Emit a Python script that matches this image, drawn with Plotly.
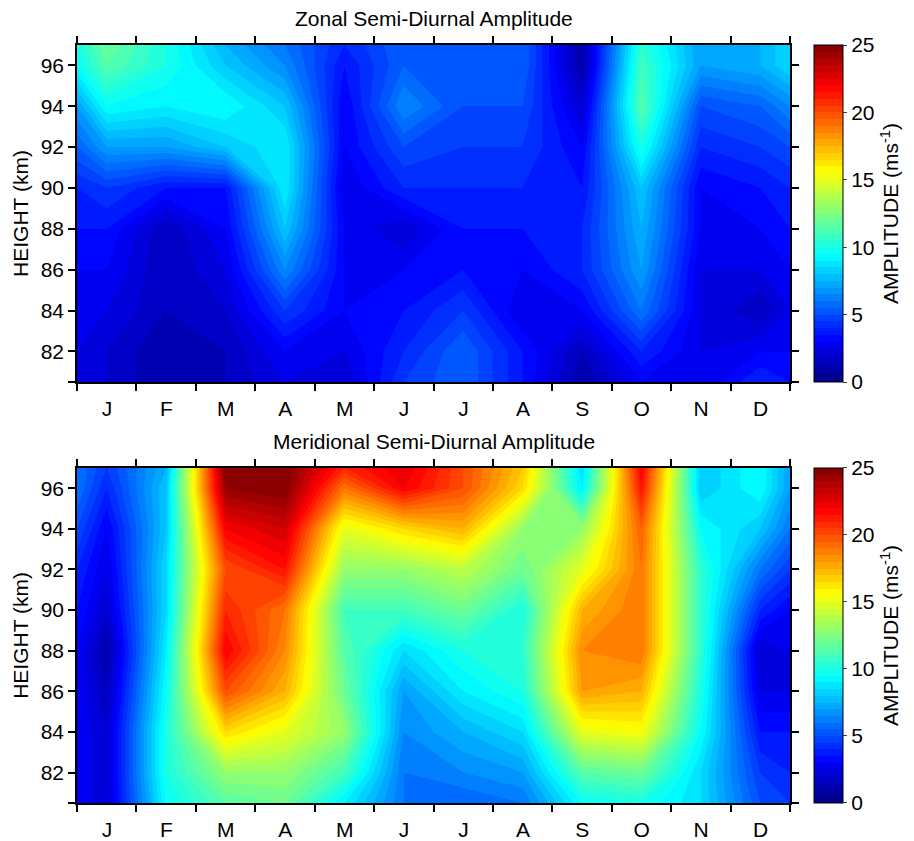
import plotly.graph_objects as go
from plotly.subplots import make_subplots

# month positions (0 = start of Jan, 12 = end of Dec), data at month centres plus edges
month_pos = [0, 0.5, 1.5, 2.5, 3.5, 4.5, 5.5, 6.5, 7.5, 8.5, 9.5, 10.5, 11.5, 12]
heights = [80.5, 82, 84, 86, 88, 90, 92, 94, 96, 97]
month_labels = ["J", "F", "M", "A", "M", "J", "J", "A", "S", "O", "N", "D", ""]
height_ticks = [80.5, 82, 84, 86, 88, 90, 92, 94, 96]
height_labels = ["", "82", "84", "86", "88", "90", "92", "94", "96"]

# zonal semi-diurnal amplitude (m/s), rows = heights (bottom to top)
zonal = [
    [2.5, 2, 1, 1.5, 2.5, 2, 4.5, 5.5, 3.5, 1, 3, 2.5, 4, 3.5],
    [2.5, 2, 1, 1.5, 3, 2.5, 4, 5.5, 3.5, 1.5, 4, 2.5, 3, 3],
    [3, 2.5, 1.5, 2, 4.5, 3, 3.5, 4.5, 2.5, 3, 6, 2.5, 1.5, 2.5],
    [3, 3, 1.5, 2.5, 6.5, 3, 3, 3.5, 3, 4, 7, 2.5, 2.5, 3],
    [3.5, 3.5, 1.5, 3, 8, 3, 2, 3.5, 3.5, 4, 7.5, 3, 3, 3.5],
    [4, 4.5, 3.5, 3.5, 9, 2.5, 4, 4, 4, 3.5, 8, 3, 3.5, 4],
    [5.5, 7, 7, 8, 9, 3, 5, 4.5, 4.5, 3, 10, 4, 4.5, 5],
    [7, 9.5, 9, 9.5, 8, 3, 6.5, 5, 5, 2, 11.5, 5, 5.5, 6.5],
    [9.5, 11.5, 10, 8, 6.5, 3.5, 5.5, 5.5, 5.5, 1, 11, 7, 7.5, 8.5],
    [10, 12, 10, 7.5, 6, 4, 5.5, 5.5, 5.5, 1, 10.5, 7, 7.5, 8.5],
]

# meridional semi-diurnal amplitude (m/s)
meridional = [
    [3, 2, 9.5, 11.5, 12, 9, 6, 5.5, 6, 9.5, 10, 8.5, 5, 4.5],
    [3, 2, 10, 13, 13, 11, 6, 6.5, 7, 11.5, 12, 8.5, 4.5, 4],
    [3, 2, 10, 16.5, 15, 13, 6.5, 7.5, 8.5, 15, 15.5, 9.5, 3.5, 3.5],
    [3, 1.5, 9.5, 20, 17.5, 12, 7, 9, 10, 18, 17.5, 10, 2.5, 2.5],
    [3, 1, 9, 22, 18.5, 11.5, 8.5, 10, 10.5, 18.5, 19, 10.5, 2, 2.5],
    [3.5, 2, 8.5, 21, 19, 11, 11, 12, 10, 17.5, 19, 10.5, 4, 3],
    [4, 2.5, 8.5, 20, 21.5, 13, 13, 14, 12, 15, 19, 10.5, 6, 4.5],
    [5, 3, 8, 22, 23, 15, 16.5, 17.5, 13, 13, 19.5, 9.5, 8, 6],
    [6, 4, 8, 24.5, 25, 19, 22, 20, 16.5, 9, 21.5, 8, 9.5, 7],
    [6, 4.5, 7.5, 25, 25, 21, 22.5, 20, 17, 8.5, 22, 8, 9.5, 7],
]

jet = [
    [0.0, "rgb(0,0,128)"],
    [0.125, "rgb(0,0,255)"],
    [0.375, "rgb(0,255,255)"],
    [0.625, "rgb(255,255,0)"],
    [0.875, "rgb(255,0,0)"],
    [1.0, "rgb(128,0,0)"],
]

font = "Liberation Sans, Arial, sans-serif"

fig = make_subplots(rows=2, cols=1)

top_dom = [0.5554, 1.0]
bot_dom = [0.0, 0.442]

for i, (z, dom) in enumerate([(zonal, top_dom), (meridional, bot_dom)]):
    fig.add_trace(go.Contour(
        x=month_pos, y=heights, z=z,
        colorscale=jet, zmin=0, zmax=25,
        contours=dict(start=0, end=25, size=0.5, coloring="fill"),
        line=dict(width=0, smoothing=0),
        colorbar=dict(
            x=1.0337, xanchor="left", xpad=0, ypad=0,
            y=dom[1], yanchor="top", len=dom[1] - dom[0], lenmode="fraction",
            thickness=29, outlinewidth=1, outlinecolor="black",
            tickvals=[0, 5, 10, 15, 20, 25], ticks="outside", ticklen=4,
            tickfont=dict(size=21, family=font, color="black"),
            title=dict(text="AMPLITUDE (ms<sup>-1</sup>)", side="right",
                       font=dict(size=21, family=font, color="black")),
        ),
    ), row=i + 1, col=1)

fig.update_xaxes(range=[0, 12], tickvals=list(range(13)), ticktext=month_labels,
                 ticklabelshift=30, ticks="outside", ticklen=7, tickwidth=2,
                 tickcolor="black", showline=True, linecolor="black", linewidth=1.5,
                 mirror="allticks", showgrid=False, zeroline=False, automargin=False,
                 tickfont=dict(size=21, family=font, color="black"))
fig.update_yaxes(range=[80.5, 97], tickvals=height_ticks, ticktext=height_labels,
                 ticks="outside", ticklen=7, tickwidth=2, tickcolor="black",
                 showline=True, linecolor="black", linewidth=1.5, mirror="allticks",
                 showgrid=False, zeroline=False, automargin=False,
                 tickfont=dict(size=21, family=font, color="black"),
                 title=dict(text="HEIGHT (km)", font=dict(size=21, family=font, color="black"),
                            standoff=6))
fig.update_layout(yaxis=dict(domain=top_dom), yaxis2=dict(domain=bot_dom))

fig.add_annotation(text="Zonal Semi-Diurnal Amplitude", xref="paper", yref="paper",
                   x=0.5, y=1.0, yanchor="bottom", yshift=13, showarrow=False,
                   font=dict(size=21, family=font, color="black"))
fig.add_annotation(text="Meridional Semi-Diurnal Amplitude", xref="paper", yref="paper",
                   x=0.5, y=bot_dom[1], yanchor="bottom", yshift=13, showarrow=False,
                   font=dict(size=21, family=font, color="black"))

# page body adds an 8px margin, so the figure is sized to fit inside the window
fig.update_layout(width=906, height=833, plot_bgcolor="white", paper_bgcolor="white",
                  margin=dict(l=69, r=124, t=37, b=38, autoexpand=False), showlegend=False)

fig.write_html("out.html")
